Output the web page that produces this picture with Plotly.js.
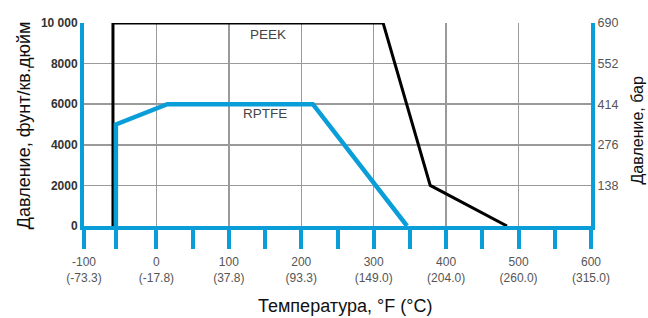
<!DOCTYPE html>
<html>
<head>
<meta charset="utf-8">
<script src="https://cdn.plot.ly/plotly-3.0.1.min.js"></script>
<style>html,body{margin:0;padding:0;background:#fff;}#chart{width:648px;height:318px;}</style>
</head>
<body>
<div id="chart"></div>
<script>
// Data (temperature °F, pressure psi)
const peekTemp = [-60, -60, 313, 378, 484];
const peekPress = [0, 10000, 10000, 2000, 0];
const rptfeTemp = [-56, -56, 15, 216, 346];
const rptfePress = [0, 5000, 6000, 6000, 0];

const xTickVals = [-100, 0, 100, 200, 300, 400, 500, 600];
const xTickText = ['-100<br>(-73.3)', '0<br>(-17.8)', '100<br>(37.8)', '200<br>(93.3)', '300<br>(149.0)', '400<br>(204.0)', '500<br>(260.0)', '600<br>(315.0)'];
const xMinorTickVals = [-56, 50, 150, 250, 350, 450, 550];
const yTickVals = [0, 2000, 4000, 6000, 8000, 10000];
const yTickText = ['0', '2000', '4000', '6000', '8000', '10 000'];
const y2TickVals = [138, 276, 414, 552, 690];
const y2TickText = ['138', '276', '414', '552', '690'];

const BLUE = '#0a9ed9';
const GRID = '#9a9a9a';
const FONT = 'Liberation Sans, Arial, sans-serif';

const traces = [
  {x: peekTemp, y: peekPress, mode: 'lines', line: {color: '#000', width: 3}, name: 'PEEK', hoverinfo: 'skip', cliponaxis: false},
  {x: rptfeTemp, y: rptfePress, mode: 'lines', line: {color: BLUE, width: 4.5}, name: 'RPTFE', hoverinfo: 'skip', cliponaxis: false},
  {x: [-100, 600], y: [0, 0], yaxis: 'y2', mode: 'lines', line: {color: 'rgba(0,0,0,0)', width: 0}, hoverinfo: 'skip', showlegend: false}
];

const layout = {
  width: 648, height: 318,
  margin: {l: 84, r: 57, t: 23, b: 92},
  paper_bgcolor: '#fff', plot_bgcolor: '#fff',
  showlegend: false,
  font: {family: FONT, color: '#333'},
  xaxis: {
    range: [-100, 600], tickmode: 'array', tickvals: xTickVals, ticktext: xTickText,
    showgrid: true, gridcolor: GRID, gridwidth: 1.5,
    showline: true, linecolor: BLUE, linewidth: 4,
    ticks: 'outside', ticklen: 19, tickwidth: 4, tickcolor: BLUE,
    minor: {tickmode: 'array', tickvals: xMinorTickVals, ticks: 'outside', ticklen: 19, tickwidth: 4, tickcolor: BLUE, showgrid: false},
    tickfont: {family: 'Liberation Sans Narrow, ' + FONT, size: 12, color: '#555'},
    ticklabelstandoff: 3,
    zeroline: false, fixedrange: true
  },
  yaxis: {
    range: [0, 10000], tickmode: 'array', tickvals: yTickVals, ticktext: yTickText,
    showgrid: true, gridcolor: GRID, gridwidth: 1.5,
    showline: true, linecolor: BLUE, linewidth: 4,
    ticks: '', tickfont: {family: FONT, size: 12, color: '#333', weight: 'bold'},
    zeroline: false, fixedrange: true
  },
  yaxis2: {
    range: [0, 690], overlaying: 'y', side: 'right', anchor: 'x',
    tickmode: 'array', tickvals: y2TickVals, ticktext: y2TickText,
    showgrid: false, showline: true, linecolor: BLUE, linewidth: 4,
    ticks: '', tickfont: {family: FONT, size: 12.5, color: '#555'},
    zeroline: false, fixedrange: true
  },
  annotations: [
    {text: 'PEEK', x: 154, y: 9450, xref: 'x', yref: 'y', showarrow: false, xanchor: 'center', yanchor: 'middle', font: {family: FONT, size: 13.5, color: '#444'}},
    {text: 'RPTFE', x: 150, y: 5520, xref: 'x', yref: 'y', showarrow: false, xanchor: 'center', yanchor: 'middle', font: {family: FONT, size: 13.5, color: '#444'}},
    {text: 'Давление, фунт/кв.дюйм', x: -0.118, y: 0.4975, xref: 'paper', yref: 'paper', textangle: -90, showarrow: false, xanchor: 'center', yanchor: 'middle', font: {family: FONT, size: 18, color: '#111'}},
    {text: 'Давление, бар', x: 1.0917, y: 0.473, xref: 'paper', yref: 'paper', textangle: -90, showarrow: false, xanchor: 'center', yanchor: 'middle', font: {family: FONT, size: 16, color: '#111'}},
    {text: 'Температура, °F (°C)', x: 0.515, y: -0.394, xref: 'paper', yref: 'paper', showarrow: false, xanchor: 'center', yanchor: 'middle', font: {family: FONT, size: 18, color: '#111'}}
  ]
};

Plotly.newPlot('chart', traces, layout, {displayModeBar: false, staticPlot: true});
</script>
</body>
</html>
